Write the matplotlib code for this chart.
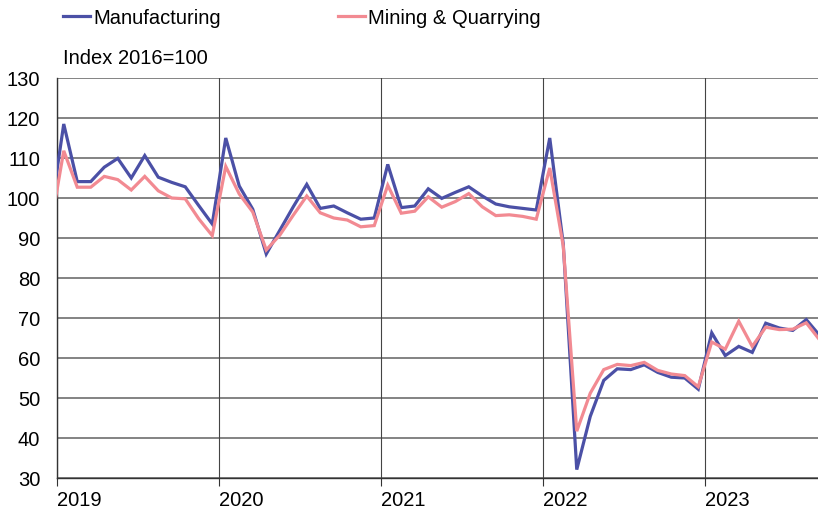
import matplotlib
matplotlib.use("Agg")
import matplotlib.pyplot as plt

# Months: Dec 2018 ... Sep 2023 (monthly)
manufacturing = [95.5,
    118.5, 104.1, 104.1, 107.7, 109.9, 105.0, 110.6, 105.2, 103.9, 102.8, 98.1, 93.5,   # 2019
    115.0, 103.0, 97.2, 86.0, 91.9, 97.8, 103.4, 97.4, 98.0, 96.3, 94.7, 95.0,         # 2020
    108.4, 97.6, 98.0, 102.3, 99.9, 101.4, 102.8, 100.5, 98.5, 97.8, 97.4, 97.0,       # 2021
    115.0, 88.5, 32.1, 45.4, 54.4, 57.3, 57.1, 58.3, 56.4, 55.2, 55.0, 52.2,           # 2022
    66.3, 60.6, 62.9, 61.4, 68.7, 67.5, 66.9, 69.6, 65.6]                               # 2023
mining = [92.2,
    111.8, 102.7, 102.7, 105.4, 104.6, 102.0, 105.4, 101.8, 100.0, 99.8, 94.8, 90.6,
    107.9, 101.0, 96.5, 87.0, 90.7, 95.7, 100.5, 96.3, 95.0, 94.5, 92.8, 93.1,
    103.2, 96.2, 96.7, 100.3, 97.7, 99.1, 101.1, 97.8, 95.6, 95.8, 95.4, 94.7,
    107.5, 88.0, 41.7, 51.2, 57.1, 58.4, 58.1, 58.9, 56.9, 56.0, 55.6, 52.8,
    64.0, 62.2, 69.2, 62.9, 67.7, 67.1, 67.2, 68.8, 64.5]
year_labels = ["2019", "2020", "2021", "2022", "2023"]
y_ticks = [30, 40, 50, 60, 70, 80, 90, 100, 110, 120, 130]
series_names = ["Manufacturing", "Mining & Quarrying"]

# x position in months from Jan 2019, plotted at mid-month
x = [i - 1 + 0.5 for i in range(len(manufacturing))]

FONT = "Liberation Sans"
FS = 14.5

fig = plt.figure(figsize=(8.18, 5.14), dpi=100)
ax = fig.add_axes([57 / 818, 1 - 478 / 514, 1 - 57 / 818, 400 / 514])

blue = "#4B50A6"
pink = "#F28A92"

for yv in y_ticks:
    ax.axhline(yv, color="#7a7a7a", lw=1.3, zorder=1)
for k in range(len(year_labels)):
    ax.axvline(12 * k, color="#444444", lw=0.8, zorder=1)

l_man, = ax.plot(x, manufacturing, color=blue, lw=2.3, zorder=3,
                 solid_joinstyle="miter", label=series_names[0])
l_min, = ax.plot(x, mining, color=pink, lw=2.3, zorder=4,
                 solid_joinstyle="miter", label=series_names[1])

ax.set_xlim(0, (818 - 57) / 13.5)
ax.set_ylim(30, 130)
ax.set_yticks(y_ticks)
ax.set_xticks([12 * k for k in range(len(year_labels))])

ax.set_xticklabels(year_labels, fontsize=FS, family=FONT, ha="left")
ax.set_yticklabels([str(v) for v in y_ticks], fontsize=FS, family=FONT)
ax.tick_params(axis="y", length=0, pad=12)
ax.tick_params(axis="x", length=6, width=0.8, direction="out", pad=3, color="#333333")

for s in ["top", "right"]:
    ax.spines[s].set_visible(False)
for s in ["left", "bottom"]:
    ax.spines[s].set_color("#333333")
    ax.spines[s].set_linewidth(1.0)

fig.legend([l_man, l_min], series_names,
           loc="center left", bbox_to_anchor=(63 / 818, 1 - 18 / 514),
           ncol=2, frameon=False, handlelength=1.34, handletextpad=0.15,
           columnspacing=5.85, borderaxespad=0, borderpad=0,
           prop={"family": FONT, "size": FS})

fig.text(63 / 818, 1 - 58 / 514, "Index 2016=100", fontsize=FS,
         family=FONT, va="center", ha="left")

fig.savefig("out.png", dpi=100)
